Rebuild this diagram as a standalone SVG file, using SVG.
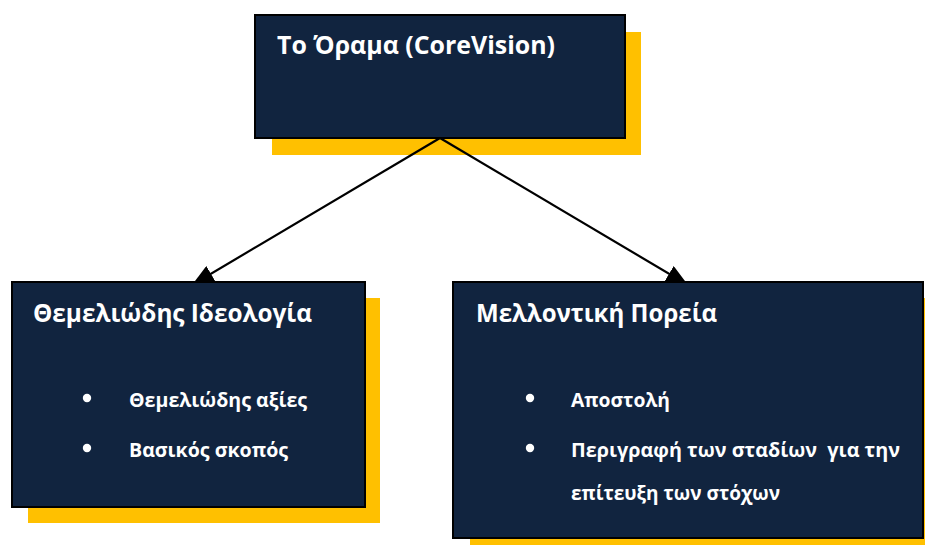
<svg xmlns="http://www.w3.org/2000/svg" width="925" height="546" viewBox="0 0 925 546">
  <defs>
    <style>
      .shadow { fill: #FFC000; }
      .box { fill: #11243F; stroke: #000; stroke-width: 2; }
      .title { font-family: "Open Sans", "Liberation Sans", sans-serif; font-weight: bold; font-size: 25px; fill: #fff; }
      .item { font-family: "Open Sans", "Liberation Sans", sans-serif; font-weight: bold; font-size: 20px; fill: #fff; }
      .bullet { fill: #fff; }
      .conn { stroke: #000; stroke-width: 2.2; fill: none; }
    </style>
    <marker id="head" viewBox="0 0 22 18" refX="22" refY="9" markerWidth="22" markerHeight="18" markerUnits="userSpaceOnUse" orient="auto">
      <path d="M0,0 L22,9 L0,18 Z" fill="#000"/>
    </marker>
  </defs>

  <!-- top node -->
  <g id="vision">
    <rect class="shadow" x="272" y="32" width="369" height="123"/>
    <rect class="box" x="255" y="15" width="370" height="123"/>
    <text class="title" x="277" y="54" textLength="278" lengthAdjust="spacingAndGlyphs">Το Όραμα (CoreVision)</text>
  </g>

  <!-- connectors from the vision box to the two sub-boxes -->
  <g id="connectors">
    <line class="conn" x1="440" y1="138" x2="192" y2="285" marker-end="url(#head)"/>
    <line class="conn" x1="440" y1="138" x2="688" y2="285" marker-end="url(#head)"/>
  </g>

  <!-- left node -->
  <g id="ideology">
    <rect class="shadow" x="28" y="298" width="352" height="225"/>
    <rect class="box" x="12" y="282" width="353" height="225"/>
    <text class="title" x="33" y="322" textLength="279" lengthAdjust="spacingAndGlyphs">Θεμελιώδης Ιδεολογία</text>
    <circle class="bullet" cx="87" cy="398" r="4.2"/>
    <text class="item" x="129" y="407" textLength="178" lengthAdjust="spacingAndGlyphs">Θεμελιώδης αξίες</text>
    <circle class="bullet" cx="87" cy="448" r="4.2"/>
    <text class="item" x="129" y="457" textLength="159" lengthAdjust="spacingAndGlyphs">Βασικός σκοπός</text>
  </g>

  <!-- right node -->
  <g id="future">
    <rect class="shadow" x="470" y="298" width="460" height="247"/>
    <rect class="box" x="453" y="282" width="470" height="256"/>
    <text class="title" x="476" y="322" textLength="241" lengthAdjust="spacingAndGlyphs">Μελλοντική Πορεία</text>
    <circle class="bullet" cx="530" cy="398" r="4.2"/>
    <text class="item" x="571" y="407" textLength="99" lengthAdjust="spacingAndGlyphs">Αποστολή</text>
    <circle class="bullet" cx="530" cy="448" r="4.2"/>
    <text class="item" x="571" y="457" textLength="329" lengthAdjust="spacingAndGlyphs" xml:space="preserve">Περιγραφή των σταδίων  για την</text>
    <text class="item" x="571" y="500" textLength="209" lengthAdjust="spacingAndGlyphs">επίτευξη των στόχων</text>
  </g>
</svg>
